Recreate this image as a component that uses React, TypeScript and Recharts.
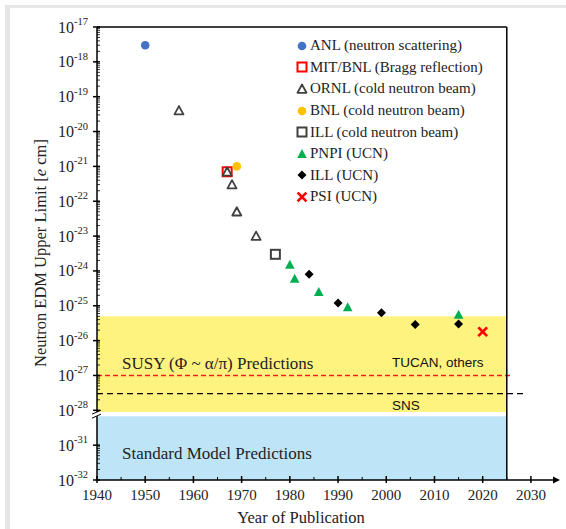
import {
  Label,
  Legend,
  ReferenceArea,
  ReferenceDot,
  ReferenceLine,
  Scatter,
  ScatterChart,
  XAxis,
  YAxis,
} from "recharts";

const SERIF = '"Liberation Serif", "Times New Roman", serif';
const SANS = '"Liberation Sans", Arial, sans-serif';

// published upper limits, e cm
const anlYears = [1950];
const anlLimits = [3e-18];
const mitYears = [1967];
const mitLimits = [7e-22];
const ornlYears = [1957, 1967, 1968, 1969, 1973];
const ornlLimits = [4e-20, 7e-22, 3e-22, 5e-23, 1e-23];
const bnlYears = [1969];
const bnlLimits = [1e-21];
const illBeamYears = [1977];
const illBeamLimits = [3e-24];
const pnpiYears = [1980, 1981, 1986, 1992, 2015];
const pnpiLimits = [1.5e-24, 6e-25, 2.5e-25, 9e-26, 5.5e-26];
const illUcnYears = [1984, 1990, 1999, 2006, 2015];
const illUcnLimits = [8e-25, 1.2e-25, 6.3e-26, 2.9e-26, 3e-26];
const psiYears = [2020];
const psiLimits = [1.8e-26];

const legendNames = [
  "ANL (neutron scattering)",
  "MIT/BNL (Bragg reflection)",
  "ORNL (cold neutron beam)",
  "BNL (cold neutron beam)",
  "ILL (cold neutron beam)",
  "PNPI (UCN)",
  "ILL (UCN)",
  "PSI (UCN)",
];

const xTicks = [1940, 1945, 1950, 1955, 1960, 1965, 1970, 1975, 1980, 1985, 1990, 1995, 2000, 2005, 2010, 2015, 2020, 2025, 2030];
const yTickExponents = [-17, -18, -19, -20, -21, -22, -23, -24, -25, -26, -27, -28, -31, -32];
const minorDecades = [-18, -19, -20, -21, -22, -23, -24, -25, -26, -27, -28, -32];
const minorSteps = [2, 3, 4, 5, 6, 7, 8, 9];

// prediction bands and future sensitivities
const susyTop = 5e-26;
const tucanLimit = 1e-27;
const snsLimit = 3e-28;

// the axis skips 1e-29 and 1e-30, so anything below 1e-28 moves up two decades
function axisPos(exp: number) {
  return exp < -28.5 ? exp + 2 : exp;
}
function toAxis(v: number) {
  return axisPos(Math.log10(v));
}
function points(years: number[], limits: number[]) {
  return years.map((year, i) => ({ year, y: toAxis(limits[i]) }));
}

const yTicks = [
  ...yTickExponents.map(axisPos),
  ...minorDecades.flatMap((n) => minorSteps.map((k) => axisPos(n) + Math.log10(k))),
];

type Kind = "circleBlue" | "squareRed" | "triangle" | "circleOrange" | "square" | "triangleGreen" | "diamond" | "cross";

const series: { name: string; kind: Kind; data: { year: number; y: number }[] }[] = [
  { name: legendNames[0], kind: "circleBlue", data: points(anlYears, anlLimits) },
  { name: legendNames[1], kind: "squareRed", data: points(mitYears, mitLimits) },
  { name: legendNames[2], kind: "triangle", data: points(ornlYears, ornlLimits) },
  { name: legendNames[3], kind: "circleOrange", data: points(bnlYears, bnlLimits) },
  { name: legendNames[4], kind: "square", data: points(illBeamYears, illBeamLimits) },
  { name: legendNames[5], kind: "triangleGreen", data: points(pnpiYears, pnpiLimits) },
  { name: legendNames[6], kind: "diamond", data: points(illUcnYears, illUcnLimits) },
  { name: legendNames[7], kind: "cross", data: points(psiYears, psiLimits) },
];

function Marker({ kind, cx, cy }: { kind: Kind; cx: number; cy: number }) {
  switch (kind) {
    case "circleBlue":
      return <circle cx={cx} cy={cy} r={4.3} fill="#4472C4" />;
    case "circleOrange":
      return <circle cx={cx} cy={cy} r={4.3} fill="#FFC000" />;
    case "squareRed":
      return <rect x={cx - 4.5} y={cy - 4.5} width={9} height={9} fill="#fff" stroke="#FF0000" strokeWidth={2} />;
    case "square":
      return <rect x={cx - 4.5} y={cy - 4.5} width={9} height={9} fill="#fff" stroke="#404040" strokeWidth={2} />;
    case "triangle":
      return (
        <polygon
          points={`${cx},${cy - 4.5} ${cx + 4.5},${cy + 3.8} ${cx - 4.5},${cy + 3.8}`}
          fill="#fff"
          stroke="#404040"
          strokeWidth={1.8}
          strokeLinejoin="round"
        />
      );
    case "triangleGreen":
      return <polygon points={`${cx},${cy - 5} ${cx + 4.8},${cy + 4} ${cx - 4.8},${cy + 4}`} fill="#00B050" />;
    case "diamond":
      return <polygon points={`${cx},${cy - 4.5} ${cx + 4.5},${cy} ${cx},${cy + 4.5} ${cx - 4.5},${cy}`} fill="#000" />;
    case "cross":
      return (
        <g stroke="#FF0000" strokeWidth={2.6} strokeLinecap="square">
          <line x1={cx - 3.5} y1={cy - 3.5} x2={cx + 3.5} y2={cy + 3.5} />
          <line x1={cx - 3.5} y1={cy + 3.5} x2={cx + 3.5} y2={cy - 3.5} />
        </g>
      );
  }
  return null;
}

function YTick(props: any) {
  const { x, y, payload } = props;
  const exp = yTickExponents.find((e) => Math.abs(axisPos(e) - payload.value) < 1e-6);
  if (exp === undefined) {
    return <line x1={x} x2={x + 3} y1={y} y2={y} stroke="#000" strokeWidth={0.8} />;
  }
  return (
    <g>
      <line x1={x - 4} x2={x + 3} y1={y} y2={y} stroke="#000" strokeWidth={1.5} />
      <text x={x - 9} y={y + 5.5} textAnchor="end" fontFamily={SERIF} fontSize={16} fill="#222">
        10
        <tspan dy={-7.5} fontSize={10.5}>
          {exp}
        </tspan>
      </text>
    </g>
  );
}

function XTick(props: any) {
  const { x, y, payload } = props;
  if (payload.value % 10 !== 0) {
    return <line x1={x} x2={x} y1={y - 3} y2={y} stroke="#000" strokeWidth={1} />;
  }
  return (
    <g>
      <line x1={x} x2={x} y1={y - 4} y2={y + 3} stroke="#000" strokeWidth={1.5} />
      <text x={x} y={y + 20} textAnchor="middle" fontFamily={SERIF} fontSize={15} fill="#222">
        {payload.value}
      </text>
    </g>
  );
}

function LegendBox() {
  return (
    <div style={{ fontFamily: SERIF, fontSize: 15, color: "#222" }}>
      {series.map((s) => (
        <div key={s.name} style={{ display: "flex", alignItems: "center", height: 21.6 }}>
          <svg width={12} height={12} style={{ overflow: "visible" }}>
            <Marker kind={s.kind} cx={6} cy={6} />
          </svg>
          <span style={{ marginLeft: 2, whiteSpace: "nowrap" }}>{s.name}</span>
        </div>
      ))}
    </div>
  );
}

export default function App() {
  return (
    <div style={{ position: "absolute", left: 0, top: 0, width: 566, height: 529, background: "#fff" }}>
      <div
        style={{
          position: "absolute",
          left: 5,
          top: 5,
          right: 0,
          bottom: 0,
          borderTop: "3px solid #e6e6e6",
          borderLeft: "5px solid #e6e6e6",
        }}
      />
      <ScatterChart width={566} height={529} margin={{ top: 27, right: 11, bottom: 0, left: 0 }}>
        <XAxis
          type="number"
          dataKey="year"
          domain={[1940, 2035]}
          ticks={xTicks}
          interval={0}
          allowDataOverflow
          height={49}
          tickSize={0}
          tickMargin={0}
          tickLine={false}
          axisLine={{ stroke: "#000", strokeWidth: 1.5 }}
          tick={<XTick />}
        >
          <Label
            content={({ viewBox }: any) => (
              <text x={viewBox.x + 204} y={viewBox.y + 43} textAnchor="middle" fontFamily={SERIF} fontSize={16.5} fill="#222">
                Year of Publication
              </text>
            )}
          />
        </XAxis>
        <YAxis
          type="number"
          dataKey="y"
          domain={[-30, -17]}
          ticks={yTicks}
          interval={0}
          allowDataOverflow
          width={97}
          tickSize={0}
          tickMargin={0}
          tickLine={false}
          axisLine={{ stroke: "#000", strokeWidth: 1.5 }}
          tick={<YTick />}
        >
          <Label
            content={() => {
              const cx = 40;
              const cy = 253;
              return (
                <text
                  x={cx}
                  y={cy}
                  transform={`rotate(-90, ${cx}, ${cy})`}
                  textAnchor="middle"
                  dominantBaseline="central"
                  fontFamily={SERIF}
                  fontSize={16.5}
                  fill="#222"
                >
                  Neutron EDM Upper Limit [<tspan fontStyle="italic">e</tspan> cm]
                </text>
              );
            }}
          />
        </YAxis>

        <ReferenceArea x1={1940} x2={2025} y1={-28.05} y2={toAxis(susyTop)} fill="#FFF37F" fillOpacity={1} stroke="none" />
        <ReferenceArea x1={1940} x2={2025} y1={-30} y2={-28.17} fill="#BEE5F7" fillOpacity={1} stroke="none">
          <Label
            content={({ viewBox }: any) => (
              <text x={viewBox.x + 25} y={viewBox.y + 43} fontFamily={SERIF} fontSize={17} fill="#222">
                Standard Model Predictions
              </text>
            )}
          />
        </ReferenceArea>

        <ReferenceLine
          segment={[
            { x: 1940, y: toAxis(tucanLimit) },
            { x: 2026.3, y: toAxis(tucanLimit) },
          ]}
          stroke="#FF1A1A"
          strokeWidth={1.5}
          strokeDasharray="5 3"
        >
          <Label
            content={({ viewBox }: any) => (
              <g>
                <text x={viewBox.x + 25} y={viewBox.y - 6} fontFamily={SERIF} fontSize={17} fill="#222">
                  SUSY (Φ ~ α/π) Predictions
                </text>
                <text x={viewBox.x + 295} y={viewBox.y - 8} fontFamily={SANS} fontSize={13.5} fill="#111">
                  TUCAN, others
                </text>
              </g>
            )}
          />
        </ReferenceLine>
        <ReferenceLine
          segment={[
            { x: 1940, y: toAxis(snsLimit) },
            { x: 2029, y: toAxis(snsLimit) },
          ]}
          stroke="#000"
          strokeWidth={1.2}
          strokeDasharray="6 4"
        >
          <Label
            content={({ viewBox }: any) => (
              <text x={viewBox.x + 295} y={viewBox.y + 16} fontFamily={SANS} fontSize={13.5} fill="#111">
                SNS
              </text>
            )}
          />
        </ReferenceLine>

        {/* plot frame */}
        <ReferenceLine
          segment={[
            { x: 1940, y: -17 },
            { x: 2025, y: -17 },
          ]}
          stroke="#000"
          strokeWidth={1.5}
          ifOverflow="visible"
        />
        <ReferenceLine
          segment={[
            { x: 2025, y: -17 },
            { x: 2025, y: -30 },
          ]}
          stroke="#000"
          strokeWidth={1.5}
          ifOverflow="visible"
        />

        {/* axis break and arrow */}
        <ReferenceDot
          x={1940}
          y={-28.11}
          r={0}
          ifOverflow="visible"
          shape={(p: any) => (
            <g>
              <rect x={p.cx - 3} y={p.cy - 2} width={6} height={4} fill="#fff" />
              <line x1={p.cx - 5} y1={p.cy} x2={p.cx + 4} y2={p.cy - 4} stroke="#000" strokeWidth={1} />
              <line x1={p.cx - 5} y1={p.cy + 4} x2={p.cx + 4} y2={p.cy} stroke="#000" strokeWidth={1} />
            </g>
          )}
        />
        <ReferenceDot
          x={2035}
          y={-30}
          r={0}
          ifOverflow="visible"
          shape={(p: any) => (
            <polygon points={`${p.cx - 2},${p.cy - 3.5} ${p.cx + 5},${p.cy} ${p.cx - 2},${p.cy + 3.5}`} fill="#000" />
          )}
        />

        {series.map((s) => (
          <Scatter
            key={s.name}
            name={s.name}
            data={s.data}
            isAnimationActive={false}
            shape={(p: any) => <Marker kind={s.kind} cx={p.cx} cy={p.cy} />}
          />
        ))}

        <Legend
          layout="vertical"
          align="center"
          verticalAlign="middle"
          wrapperStyle={{ top: 35, left: 296, width: 210 }}
          content={() => <LegendBox />}
        />
      </ScatterChart>
    </div>
  );
}
